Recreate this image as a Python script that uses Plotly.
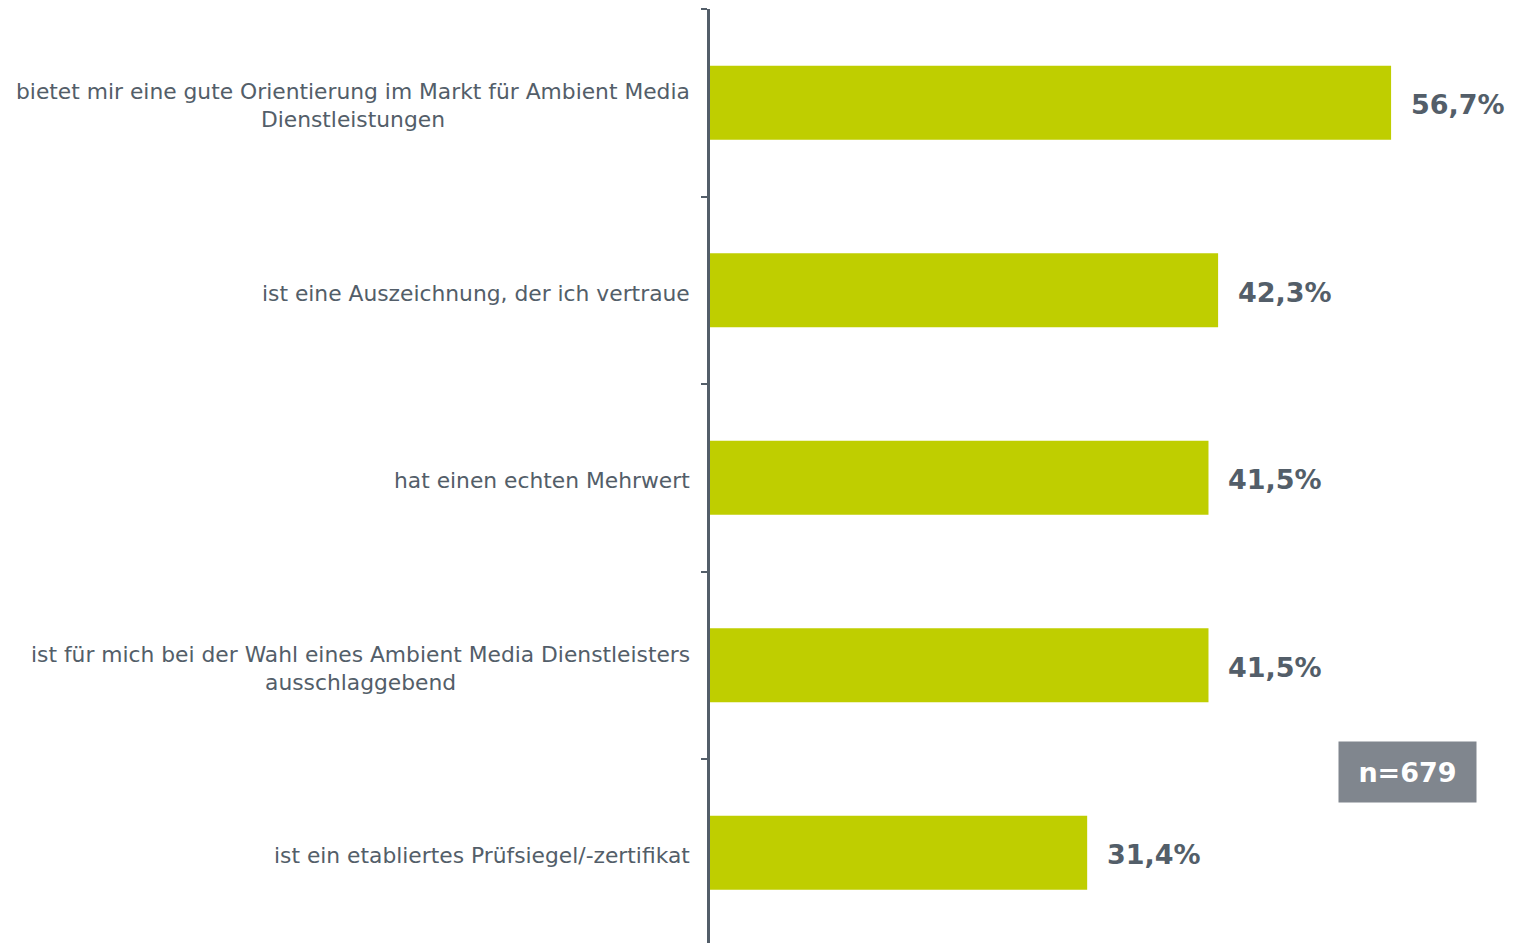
import plotly.graph_objects as go

categories = [
    "bietet mir eine gute Orientierung im Markt für Ambient Media<br>Dienstleistungen",
    "ist eine Auszeichnung, der ich vertraue",
    "hat einen echten Mehrwert",
    "ist für mich bei der Wahl eines Ambient Media Dienstleisters<br>ausschlaggebend",
    "ist ein etabliertes Prüfsiegel/-zertifikat",
]
values = [56.7, 42.3, 41.5, 41.5, 31.4]
value_labels = ["56,7%", "42,3%", "41,5%", "41,5%", "31,4%"]
sample_note = "n=679"

BAR = "#bfce00"
TXT = "#535e69"

fig = go.Figure()
fig.add_trace(go.Bar(
    x=values, y=list(range(len(categories))), orientation="h",
    marker=dict(color=BAR, line=dict(width=0)), width=0.395,
    hoverinfo="skip",
))

annotations = []
for i, (v, lab) in enumerate(zip(values, value_labels)):
    annotations.append(dict(
        x=v, y=i, xref="x", yref="y", text=f"<b>{lab}</b>", showarrow=False,
        xanchor="left", yanchor="middle", xshift=18, yshift=-2,
        font=dict(family="DejaVu Sans", size=27, color=TXT),
    ))
for i, c in enumerate(categories):
    annotations.append(dict(
        x=0, y=i, xref="paper", yref="y", text=c, showarrow=False,
        xanchor="right", yanchor="middle", xshift=-18, yshift=-3, align="center",
        font=dict(family="DejaVu Sans", size=21.8, color=TXT),
    ))
annotations.append(dict(
    x=0.8656, y=0.183, xref="paper", yref="paper", text=f"<b>{sample_note}</b>",
    showarrow=False, xanchor="center", yanchor="middle",
    bgcolor="#80868e", width=137, height=60, borderpad=0,
    font=dict(family="DejaVu Sans", size=27, color="white"),
))

fig.update_layout(
    width=1508, height=935,
    margin=dict(l=702, r=0, t=1, b=0),
    paper_bgcolor="white", plot_bgcolor="white",
    showlegend=False,
    annotations=annotations,
    xaxis=dict(range=[0, 67.1], visible=False),
    yaxis=dict(
        range=[-0.5 + 934 / 187.5, -0.5],
        tickmode="array", tickvals=[-0.5, 0.5, 1.5, 2.5, 3.5],
        ticktext=["", "", "", "", ""],
        ticks="outside", ticklen=6, tickwidth=2, tickcolor=TXT,
        showline=True, linecolor=TXT, linewidth=3,
        showgrid=False, zeroline=False,
    ),
)

fig.write_html("out.html")
